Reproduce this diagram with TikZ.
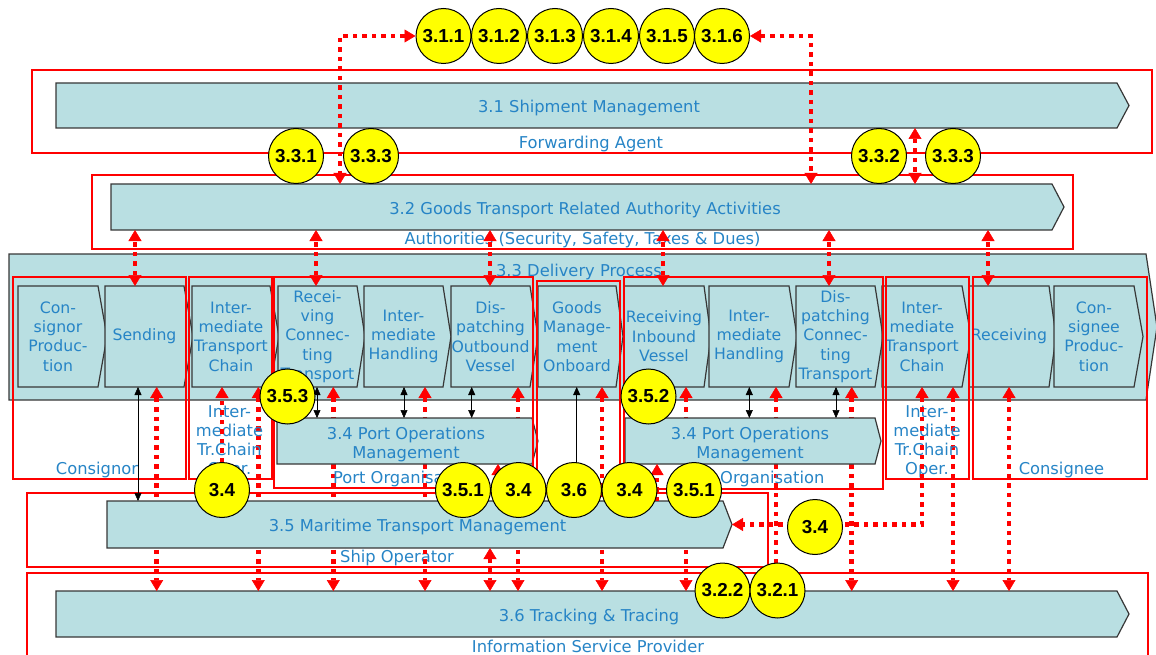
\documentclass[tikz,border=0pt]{standalone}
\usepackage{fontspec}
\setmainfont{DejaVu Sans}
\newfontfamily\numfont{Liberation Sans}
\usetikzlibrary{arrows.meta}

\definecolor{boxfill}{RGB}{185,223,226}
\definecolor{boxline}{RGB}{55,55,55}
\definecolor{txtblue}{RGB}{38,132,198}
\definecolor{orgred}{RGB}{255,0,0}
\definecolor{numyellow}{RGB}{255,255,0}

\tikzset{
  orgbox/.style={draw=orgred, line width=1.5pt},
  orglabel/.style={text=txtblue, font=\fontsize{16.3}{19.2}\selectfont, inner sep=0pt, align=center},
  chevshape/.style={fill=boxfill, draw=boxline, line width=1.2pt, line join=miter},
  chevtext/.style={text=txtblue, font=\fontsize{16.3}{19.3}\selectfont, inner sep=0pt, align=center},
  proctext/.style={text=txtblue, font=\fontsize{15.7}{19.4}\selectfont, inner sep=0pt, align=center},
  numcircle/.style={circle, draw=black, line width=1pt, fill=numyellow, minimum size=55pt,
    inner sep=0pt, font=\numfont\bfseries\fontsize{18.8}{20}\selectfont},
  rdot/.style={orgred, line width=4.5pt, dash pattern=on 4.5pt off 5pt,
    >={Triangle[width=13pt,length=11pt,line width=0.5pt]}},
  bline/.style={black, line width=1pt, >={Triangle[width=7pt,length=8pt,line width=0.5pt]}},
}

% chevron box: [text style]{name}{left}{top}{body right}{bottom}{tip x}{text}
\newcommand\chevbox[8][]{%
  \draw[chevshape] (#3,#4) -- (#5,#4) -- (#7,{(#4+#6)/2}) -- (#5,#6) -- (#3,#6) -- cycle;
  \node[inner sep=0pt, outer sep=0pt, minimum width={#5-#3}, minimum height={#6-#4}, #1]
    (#2) at ({(#3+#5)/2},{(#4+#6)/2}) {#8};
  \coordinate (#2-tip) at (#7,{(#4+#6)/2});
}
% vertical connector from an anchor straight to the level of another anchor
\newcommand\vlink[3][]{\draw[#1] (#2) coordinate (vtop) -- (vtop |- #3);}

\begin{document}
\begin{tikzpicture}[x=1pt,y=-1pt]
\useasboundingbox (0,0) rectangle (1156,655);
\clip (0,0) rectangle (1156,655);

% ---- organisation frames (outer) ----
\draw[orgbox] (32,70) rectangle (1152,153);
\draw[orgbox] (92,175) rectangle (1073,249);
\draw[orgbox] (27,493) rectangle (768,567);
\draw[orgbox] (27,573) rectangle (1148,690);
\node[orglabel, anchor=base] (lfwd)  at (591,149)   {Forwarding Agent};
\node[orglabel, anchor=base] (lauth) at (582.5,244.3) {Authorities (Security, Safety, Taxes \& Dues)};
\node[orglabel, anchor=base] (lship) at (397,562.7) {Ship Operator};
\node[orglabel, anchor=base] (lisp)  at (588,652.7) {Information Service Provider};

% ---- main process bands ----
\chevbox{s31}{56}{83}{1117}{128}{1129}{}
\node[chevtext, anchor=base] (t31) at (589,112.7) {3.1 Shipment Management};
\chevbox{s32}{111}{184}{1052}{230}{1064}{}
\node[chevtext, anchor=base] (t32) at (585,214.3) {3.2 Goods Transport Related Authority Activities};
\chevbox{s36}{56}{591}{1117}{637}{1129}{}
\node[chevtext, anchor=base] (t36) at (589,621) {3.6 Tracking \& Tracing};
\chevbox{s33}{9}{254}{1146}{400}{1157}{}
\node[chevtext, anchor=base] (t33) at (579,276) {3.3 Delivery Process};

% ---- delivery steps ----
\chevbox[proctext]{cp}{18}{286}{98}{387}{107}{Con-\\signor\\Produc-\\tion}
\chevbox[proctext]{send}{105}{286}{184}{387}{193}{Sending}
\chevbox[proctext]{itc1}{192}{286}{270}{387}{279}{Inter-\\mediate\\Transport\\Chain}
\chevbox[proctext]{rct}{278}{286}{357}{387}{365}{Recei-\\ving\\Connec-\\ting\\Transport}
\chevbox[proctext]{ih1}{364}{286}{443}{387}{451}{Inter-\\mediate\\Handling}
\chevbox[proctext]{dov}{451}{286}{530}{387}{538}{Dis-\\patching\\Outbound\\Vessel}
\chevbox[proctext]{gmo}{538}{286}{616}{387}{623}{Goods\\Manage-\\ment\\Onboard}
\chevbox[proctext]{riv}{624}{286}{704}{387}{711}{Receiving\\Inbound\\Vessel}
\chevbox[proctext]{ih2}{709}{286}{789}{387}{797}{Inter-\\mediate\\Handling}
\chevbox[proctext]{dct}{796}{286}{875}{387}{883}{Dis-\\patching\\Connec-\\ting\\Transport}
\chevbox[proctext]{itc2}{882}{286}{962}{387}{971}{Inter-\\mediate\\Transport\\Chain}
\chevbox[proctext]{recv}{969}{286}{1049}{387}{1056}{Receiving}
\chevbox[proctext]{cpn}{1054}{286}{1134}{387}{1143}{Con-\\signee\\Produc-\\tion}

% ---- tracking links running behind the lower bands ----
\vlink[rdot,<->]{[xshift=51.7pt]send.south west}{s36.north}
\vlink[rdot,<->]{[xshift=66.3pt]itc1.south west}{s36.north}
\vlink[rdot,<->]{[xshift=55.3pt]rct.south west}{s36.north}
\vlink[rdot,<->]{[xshift=61pt]ih1.south west}{s36.north}
\vlink[rdot,<->]{[xshift=67pt]dov.south west}{s36.north}
\vlink[rdot,<->]{[xshift=64pt]gmo.south west}{s36.north}
\vlink[rdot,<->]{[xshift=62pt]riv.south west}{s36.north}
\vlink[rdot,<->]{[xshift=67pt]ih2.south west}{s36.north}
\vlink[rdot,<->]{[xshift=55.7pt]dct.south west}{s36.north}
\vlink[rdot,<->]{[xshift=71pt]itc2.south west}{s36.north}
\vlink[rdot,<->]{[xshift=40pt]recv.south west}{s36.north}

% ---- port operations and maritime transport ----
\chevbox{po1}{277}{418}{532}{464}{538}{}
\node[chevtext] (tpo1) at (406,444.3) {3.4 Port Operations\\Management};
\chevbox{po2}{625}{418}{875}{464}{881}{}
\node[chevtext] (tpo2) at (750,444.3) {3.4 Port Operations\\Management};
\chevbox{s35}{107}{501}{723}{548}{732}{}
\node[chevtext, anchor=base] (t35) at (417.5,531.7) {3.5 Maritime Transport Management};

% ---- organisation frames (inner) ----
\draw[orgbox] (13,277) rectangle (186,479);
\draw[orgbox] (189,277) rectangle (272,479);
\draw[orgbox] (274,277) rectangle (533,488);
\draw[orgbox] (537,281) rectangle (620,488);
\draw[orgbox] (624,277) rectangle (883,489);
\draw[orgbox] (886,277) rectangle (969,479);
\draw[orgbox] (973,277) rectangle (1147,479);
\node[orglabel, anchor=base] (lcsr)  at (97,474.3)   {Consignor};
\node[orglabel] (litc1) at (229.5,441.9) {Inter-\\mediate\\Tr.Chain\\Oper.};
\node[orglabel, anchor=base] (lpo1)  at (404,483.3)  {Port Organisation};
\node[orglabel, anchor=base] (lpo2)  at (753.5,483.3) {Port Organisation};
\node[orglabel] (litc2) at (927,441.9) {Inter-\\mediate\\Tr.Chain\\Oper.};
\node[orglabel, anchor=base] (lcse)  at (1061.5,474.3) {Consignee};

% ---- short red links ----
\vlink[rdot,<->]{[xshift=383pt]s35.south west}{s36.north}
\vlink[rdot,->]{[xshift=391pt]s35.north west}{po1.south}
\vlink[rdot,->]{[xshift=550pt]s35.north west}{po2.south}
\draw[rdot,<->] ([xshift=40pt]itc2.south west) |- (s35-tip);

% ---- authority links ----
\vlink[rdot,<->]{[xshift=30pt]send.north west}{s32.south}
\vlink[rdot,<->]{[xshift=38pt]rct.north west}{s32.south}
\vlink[rdot,<->]{[xshift=39pt]dov.north west}{s32.south}
\vlink[rdot,<->]{[xshift=39pt]riv.north west}{s32.south}
\vlink[rdot,<->]{[xshift=33pt]dct.north west}{s32.south}
\vlink[rdot,<->]{[xshift=19pt]recv.north west}{s32.south}
\vlink[rdot,<->]{[xshift=859pt]s31.south west}{s32.north}

% ---- operational links (black) ----
\vlink[bline,<->]{[xshift=33pt]send.south west}{s35.north}
\vlink[bline,<->]{[xshift=39pt]rct.south west}{po1.north}
\vlink[bline,<->]{[xshift=40pt]ih1.south west}{po1.north}
\vlink[bline,<->]{[xshift=20.7pt]dov.south west}{po1.north}
\vlink[bline,<->]{[xshift=40.3pt]ih2.south west}{po2.north}
\vlink[bline,<->]{[xshift=40pt]dct.south west}{po2.north}

% ---- numbered sub-processes ----
\node[numcircle] (c311) at (443.5,36) {3.1.1};
\node[numcircle] (c312) at (499,36) {3.1.2};
\node[numcircle] (c313) at (555,36) {3.1.3};
\node[numcircle] (c314) at (611,36) {3.1.4};
\node[numcircle] (c315) at (667,36) {3.1.5};
\node[numcircle] (c316) at (722,36) {3.1.6};
\draw[rdot,<->] (c311.west) -| ([xshift=229pt]s32.north west);
\draw[rdot,<->] (c316.east) -| ([xshift=700pt]s32.north west);

\node[numcircle] (c331)  at (296,156) {3.3.1};
\node[numcircle] (c333a) at (371,156) {3.3.3};
\node[numcircle] (c332)  at (879,156) {3.3.2};
\node[numcircle] (c333b) at (953,156) {3.3.3};

\node[numcircle] (c34a) at (222,490) {3.4};
\draw[rdot,->] (c34a.north) -- (c34a.north |- itc1.south);
\node[numcircle] (c353) at (287.5,396.5) {3.5.3};
\node[numcircle] (c352) at (648.5,396.5) {3.5.2};

\coordinate (c36pos) at (574,470);
\vlink[bline,<-]{[xshift=38.7pt]gmo.south west}{c36pos}
\node[numcircle] (c351a) at (463,490) {3.5.1};
\node[numcircle] (c34b)  at (518.5,490) {3.4};
\node[numcircle] (c36)   at (574,490) {3.6};
\node[numcircle] (c34c)  at (629.5,490) {3.4};
\node[numcircle] (c351b) at (694,490) {3.5.1};
\node[numcircle] (c34d)  at (815,527) {3.4};
\node[numcircle] (c322)  at (722.5,590.5) {3.2.2};
\node[numcircle] (c321)  at (777.5,590.5) {3.2.1};
\end{tikzpicture}
\end{document}
